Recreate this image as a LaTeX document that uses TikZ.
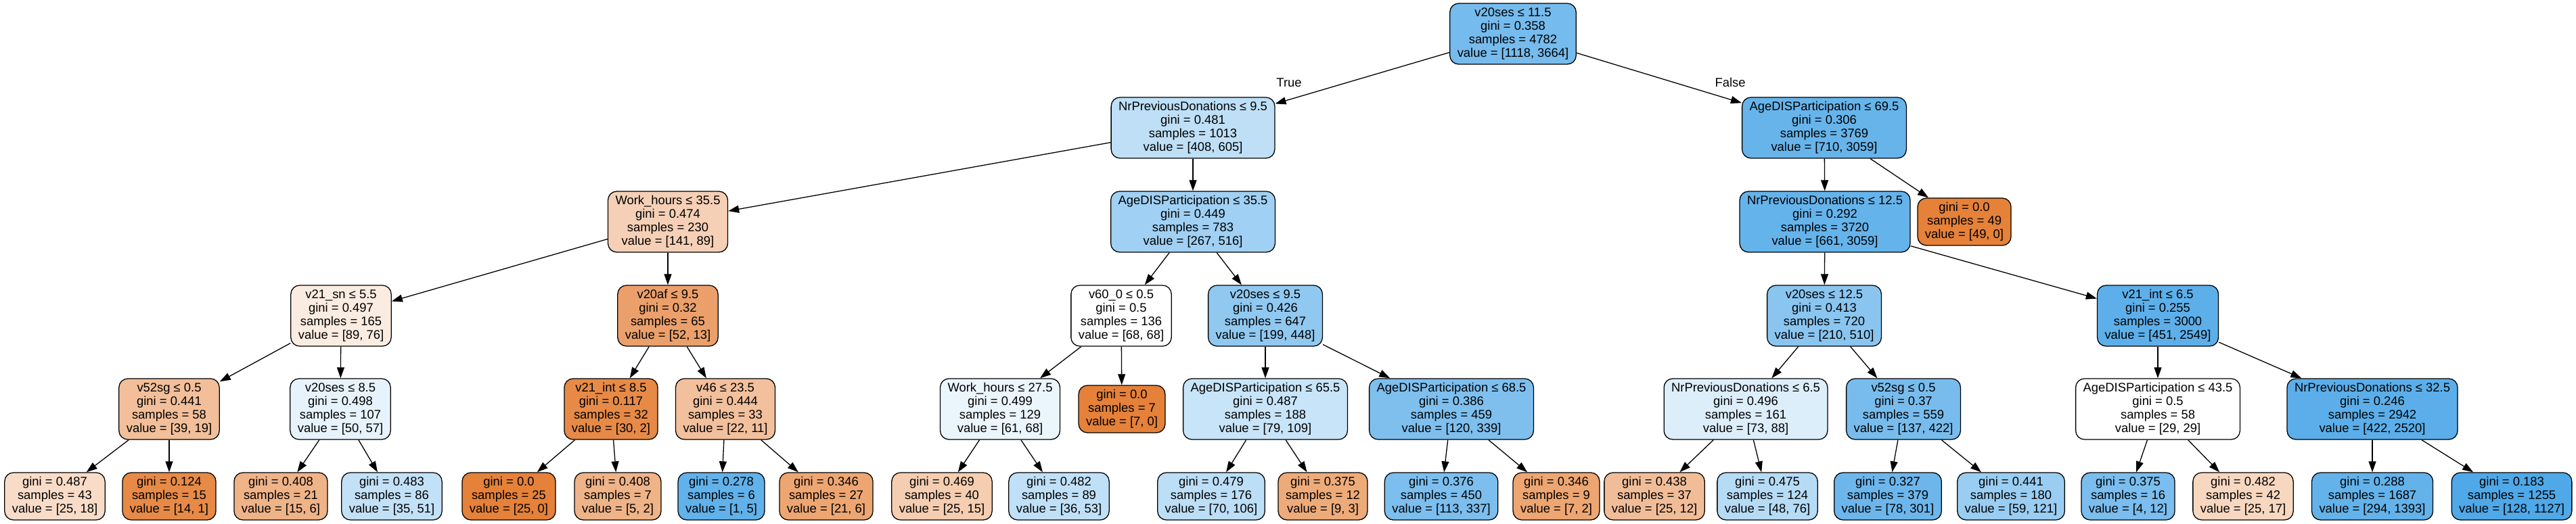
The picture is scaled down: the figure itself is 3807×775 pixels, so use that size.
\documentclass[tikz,border=0pt]{standalone}
\usepackage{fontspec}
\setmainfont{Liberation Sans}
\usetikzlibrary{arrows.meta}
\definecolor{corange}{RGB}{229,129,57}
\definecolor{cblue}{RGB}{57,157,229}
\tikzset{
  tnode/.style={draw=black, line width=1.3pt, rounded corners=13pt, align=center,
    font=\fontsize{18.4}{20}\selectfont, inner xsep=11pt, inner ysep=0pt},
  inner/.style={tnode, minimum height=90pt},
  leaf/.style={tnode, minimum height=70pt},
  edge/.style={draw=black, line width=1.3pt, -{Triangle[length=16pt,width=11pt]}},
  elabel/.style={font=\fontsize{18.4}{20}\selectfont},
}
\newcommand{\cO}[1]{corange!#1!white}
\newcommand{\cB}[1]{cblue!#1!white}
\begin{document}
\begin{tikzpicture}[x=1pt,y=-1pt]
\useasboundingbox (0,0) rectangle (3807,775);
% level 0
\node[inner, fill=\cB{69}] (n0) at (2236,50) {v20ses ≤ 11.5\\gini = 0.358\\samples = 4782\\value = [1118, 3664]};
% level 1
\node[inner, fill=\cB{33}] (n1) at (1763,189) {NrPreviousDonations ≤ 9.5\\gini = 0.481\\samples = 1013\\value = [408, 605]};
\node[inner, fill=\cB{77}] (n2) at (2696,189) {AgeDISParticipation ≤ 69.5\\gini = 0.306\\samples = 3769\\value = [710, 3059]};
% level 2
\node[inner, fill=\cO{37}] (n3) at (987,328) {Work\_hours ≤ 35.5\\gini = 0.474\\samples = 230\\value = [141, 89]};
\node[inner, fill=\cB{48}] (n4) at (1763,328) {AgeDISParticipation ≤ 35.5\\gini = 0.449\\samples = 783\\value = [267, 516]};
\node[inner, fill=\cB{78}] (n5) at (2697,328) {NrPreviousDonations ≤ 12.5\\gini = 0.292\\samples = 3720\\value = [661, 3059]};
\node[leaf, fill=\cO{100}] (n6) at (2903,328) {gini = 0.0\\samples = 49\\value = [49, 0]};
% level 3
\node[inner, fill=\cO{15}] (n7) at (504,467) {v21\_sn ≤ 5.5\\gini = 0.497\\samples = 165\\value = [89, 76]};
\node[inner, fill=\cO{75}] (n8) at (987,467) {v20af ≤ 9.5\\gini = 0.32\\samples = 65\\value = [52, 13]};
\node[inner, fill=white] (n9) at (1657,467) {v60\_0 ≤ 0.5\\gini = 0.5\\samples = 136\\value = [68, 68]};
\node[inner, fill=\cB{56}] (n10) at (1870,467) {v20ses ≤ 9.5\\gini = 0.426\\samples = 647\\value = [199, 448]};
\node[inner, fill=\cB{59}] (n11) at (2696,467) {v20ses ≤ 12.5\\gini = 0.413\\samples = 720\\value = [210, 510]};
\node[inner, fill=\cB{82}] (n12) at (3189,467) {v21\_int ≤ 6.5\\gini = 0.255\\samples = 3000\\value = [451, 2549]};
% level 4
\node[inner, fill=\cO{51}] (n13) at (250,605) {v52sg ≤ 0.5\\gini = 0.441\\samples = 58\\value = [39, 19]};
\node[inner, fill=\cB{12}] (n14) at (503,605) {v20ses ≤ 8.5\\gini = 0.498\\samples = 107\\value = [50, 57]};
\node[inner, fill=\cO{93}] (n15) at (903,605) {v21\_int ≤ 8.5\\gini = 0.117\\samples = 32\\value = [30, 2]};
\node[inner, fill=\cO{50}] (n16) at (1072,605) {v46 ≤ 23.5\\gini = 0.444\\samples = 33\\value = [22, 11]};
\node[inner, fill=\cB{10}] (n17) at (1478,605) {Work\_hours ≤ 27.5\\gini = 0.499\\samples = 129\\value = [61, 68]};
\node[leaf, fill=\cO{100}] (n18) at (1658,605) {gini = 0.0\\samples = 7\\value = [7, 0]};
\node[inner, fill=\cB{28}] (n19) at (1870,605) {AgeDISParticipation ≤ 65.5\\gini = 0.487\\samples = 188\\value = [79, 109]};
\node[inner, fill=\cB{65}] (n20) at (2145,605) {AgeDISParticipation ≤ 68.5\\gini = 0.386\\samples = 459\\value = [120, 339]};
\node[inner, fill=\cB{17}] (n21) at (2580,605) {NrPreviousDonations ≤ 6.5\\gini = 0.496\\samples = 161\\value = [73, 88]};
\node[inner, fill=\cB{68}] (n22) at (2813,605) {v52sg ≤ 0.5\\gini = 0.37\\samples = 559\\value = [137, 422]};
\node[inner, fill=white] (n23) at (3189,605) {AgeDISParticipation ≤ 43.5\\gini = 0.5\\samples = 58\\value = [29, 29]};
\node[inner, fill=\cB{83}] (n24) at (3506,605) {NrPreviousDonations ≤ 32.5\\gini = 0.246\\samples = 2942\\value = [422, 2520]};
% level 5
\node[leaf, fill=\cO{28}] (n25) at (81,734) {gini = 0.487\\samples = 43\\value = [25, 18]};
\node[leaf, fill=\cO{93}] (n26) at (250,734) {gini = 0.124\\samples = 15\\value = [14, 1]};
\node[leaf, fill=\cO{60}] (n27) at (415,734) {gini = 0.408\\samples = 21\\value = [15, 6]};
\node[leaf, fill=\cB{31}] (n28) at (579,734) {gini = 0.483\\samples = 86\\value = [35, 51]};
\node[leaf, fill=\cO{100}] (n29) at (752,734) {gini = 0.0\\samples = 25\\value = [25, 0]};
\node[leaf, fill=\cO{60}] (n30) at (913,734) {gini = 0.408\\samples = 7\\value = [5, 2]};
\node[leaf, fill=\cB{80}] (n31) at (1066,734) {gini = 0.278\\samples = 6\\value = [1, 5]};
\node[leaf, fill=\cO{71}] (n32) at (1221,734) {gini = 0.346\\samples = 27\\value = [21, 6]};
\node[leaf, fill=\cO{40}] (n33) at (1392,734) {gini = 0.469\\samples = 40\\value = [25, 15]};
\node[leaf, fill=\cB{32}] (n34) at (1565,734) {gini = 0.482\\samples = 89\\value = [36, 53]};
\node[leaf, fill=\cB{34}] (n35) at (1790,734) {gini = 0.479\\samples = 176\\value = [70, 106]};
\node[leaf, fill=\cO{67}] (n36) at (1955,734) {gini = 0.375\\samples = 12\\value = [9, 3]};
\node[leaf, fill=\cB{66}] (n37) at (2130,734) {gini = 0.376\\samples = 450\\value = [113, 337]};
\node[leaf, fill=\cO{71}] (n38) at (2300,734) {gini = 0.346\\samples = 9\\value = [7, 2]};
\node[leaf, fill=\cO{52}] (n39) at (2445,734) {gini = 0.438\\samples = 37\\value = [25, 12]};
\node[leaf, fill=\cB{37}] (n40) at (2612,734) {gini = 0.475\\samples = 124\\value = [48, 76]};
\node[leaf, fill=\cB{74}] (n41) at (2790,734) {gini = 0.327\\samples = 379\\value = [78, 301]};
\node[leaf, fill=\cB{51}] (n42) at (2972,734) {gini = 0.441\\samples = 180\\value = [59, 121]};
\node[leaf, fill=\cB{67}] (n43) at (3145,734) {gini = 0.375\\samples = 16\\value = [4, 12]};
\node[leaf, fill=\cO{32}] (n44) at (3315,734) {gini = 0.482\\samples = 42\\value = [25, 17]};
\node[leaf, fill=\cB{79}] (n45) at (3506,734) {gini = 0.288\\samples = 1687\\value = [294, 1393]};
\node[leaf, fill=\cB{89}] (n46) at (3712,734) {gini = 0.183\\samples = 1255\\value = [128, 1127]};
% edges
\draw[edge] (n0) -- (n1);
\draw[edge] (n0) -- (n2);
\node[elabel] (lt) at (1905,122) {True};
\node[elabel] (lf) at (2557,122) {False};
\draw[edge] (n1) -- (n3);
\draw[edge] (n1) -- (n4);
\draw[edge] (n2) -- (n5);
\draw[edge] (n2) -- (n6);
\draw[edge] (n3) -- (n7);
\draw[edge] (n3) -- (n8);
\draw[edge] (n4) -- (n9);
\draw[edge] (n4) -- (n10);
\draw[edge] (n5) -- (n11);
\draw[edge] (n5) -- (n12);
\draw[edge] (n7) -- (n13);
\draw[edge] (n7) -- (n14);
\draw[edge] (n8) -- (n15);
\draw[edge] (n8) -- (n16);
\draw[edge] (n9) -- (n17);
\draw[edge] (n9) -- (n18);
\draw[edge] (n10) -- (n19);
\draw[edge] (n10) -- (n20);
\draw[edge] (n11) -- (n21);
\draw[edge] (n11) -- (n22);
\draw[edge] (n12) -- (n23);
\draw[edge] (n12) -- (n24);
\draw[edge] (n13) -- (n25);
\draw[edge] (n13) -- (n26);
\draw[edge] (n14) -- (n27);
\draw[edge] (n14) -- (n28);
\draw[edge] (n15) -- (n29);
\draw[edge] (n15) -- (n30);
\draw[edge] (n16) -- (n31);
\draw[edge] (n16) -- (n32);
\draw[edge] (n17) -- (n33);
\draw[edge] (n17) -- (n34);
\draw[edge] (n19) -- (n35);
\draw[edge] (n19) -- (n36);
\draw[edge] (n20) -- (n37);
\draw[edge] (n20) -- (n38);
\draw[edge] (n21) -- (n39);
\draw[edge] (n21) -- (n40);
\draw[edge] (n22) -- (n41);
\draw[edge] (n22) -- (n42);
\draw[edge] (n23) -- (n43);
\draw[edge] (n23) -- (n44);
\draw[edge] (n24) -- (n45);
\draw[edge] (n24) -- (n46);
\end{tikzpicture}
\end{document}
